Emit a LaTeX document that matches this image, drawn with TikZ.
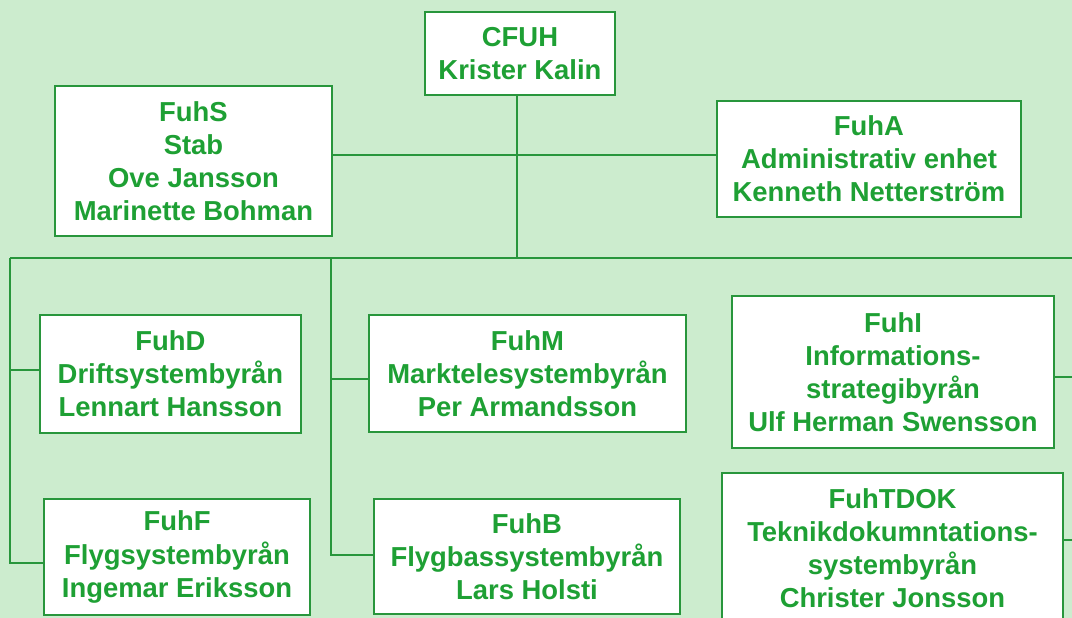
\documentclass[tikz,border=0pt]{standalone}
\usepackage{fontspec}
\setmainfont{Liberation Sans}
\usetikzlibrary{positioning,calc}
\definecolor{bg}{RGB}{204,236,206}
\definecolor{txt}{RGB}{30,160,52}
\definecolor{rule}{RGB}{40,150,60}

\begin{document}
\begin{tikzpicture}[x=0.025cm,y=-0.025cm,
  unit/.style={rectangle,draw=rule,fill=white,line width=1.4pt,align=center,
               text=txt,font=\fontsize{19.5}{23.5}\selectfont\bfseries,inner sep=0pt},
  link/.style={draw=rule,line width=1.4pt}]
  \useasboundingbox (0,0) rectangle (1072,618);
  \clip (0,0) rectangle (1072,618);
  \fill[bg] (0,0) rectangle (1072,618);
  % connectors go underneath the boxes
  \coordinate (stab) at (517,155);
  \coordinate (busL) at (10,258);
  \coordinate (busM) at (331,258);
  \coordinate (busR) at (1080,258);
  % boxes
  \node (cfuh) [unit,minimum width=4.75cm,minimum height=2.075cm] at (520,53.5) {CFUH\\Krister Kalin};
  \node (fuhs) [unit,minimum width=6.925cm,minimum height=3.75cm] at (193.5,161) {FuhS\\Stab\\Ove Jansson\\Marinette Bohman};
  \node (fuha) [unit,minimum width=7.6cm,minimum height=2.9cm] at (869,159) {FuhA\\Administrativ enhet\\Kenneth Netterstr\"om};
  \node (fuhd) [unit,minimum width=6.525cm,minimum height=2.95cm] at (170.5,374) {FuhD\\Driftsystembyr\aa n\\Lennart Hansson};
  \node (fuhf) [unit,minimum width=6.65cm,minimum height=2.9cm] at (177,557) {FuhF\\Flygsystembyr\aa n\\Ingemar Eriksson};
  \node (fuhm) [unit,minimum width=7.925cm,minimum height=2.925cm] at (527.5,373.5) {FuhM\\Marktelesystembyr\aa n\\Per Armandsson};
  \node (fuhb) [unit,minimum width=7.65cm,minimum height=2.875cm] at (527,556.5) {FuhB\\Flygbassystembyr\aa n\\Lars Holsti};
  \node (fuhi) [unit,minimum width=8.05cm,minimum height=3.8cm] at (893,372) {FuhI\\Informations-\\strategibyr\aa n\\Ulf Herman Swensson};
  \node (fuhtdok) [unit,minimum width=8.525cm,minimum height=3.75cm] at (892.5,548) {FuhTDOK\\Teknikdokumntations-\\systembyr\aa n\\Christer Jonsson};
  % lines
  \draw[link] ($(cfuh.south)+(-3,0)$) -- ($(cfuh.south |- busL)+(-3,0)$);
  \draw[link] (stab -| fuhs.east) -- (stab -| fuha.west);
  \draw[link] (busL) -- (busR);
  \draw[link] (busL) |- ($(fuhf.west)+(0,6)$);
  \draw[link] ($(busL |- fuhd.west)+(0,-4)$) -- ($(fuhd.west)+(0,-4)$);
  \draw[link] (busM) |- ($(fuhb.west)+(0,-1.5)$);
  \draw[link] ($(busM |- fuhm.west)+(0,5.5)$) -- ($(fuhm.west)+(0,5.5)$);
  \draw[link] ($(fuhi.east)+(0,5)$) -- ($(fuhi.east -| busR)+(0,5)$);
  \draw[link] ($(fuhtdok.east)+(0,-8)$) -- ($(fuhtdok.east -| busR)+(0,-8)$);
\end{tikzpicture}
\end{document}
